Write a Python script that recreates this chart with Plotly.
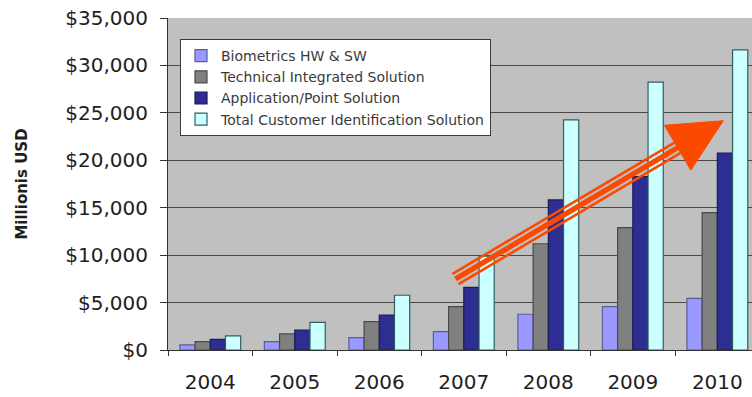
import plotly.graph_objects as go

# Market size by year, millions of USD
years = ["2004", "2005", "2006", "2007", "2008", "2009", "2010"]
biometrics = [550, 880, 1300, 1930, 3770, 4570, 5450]
technical = [880, 1690, 2990, 4570, 11200, 12900, 14490]
application = [1130, 2110, 3690, 6610, 15820, 18280, 20750]
total = [1480, 2920, 5770, 9900, 24260, 28250, 31650]

series_names = [
    "Biometrics HW & SW",
    "Technical Integrated Solution",
    "Application/Point Solution",
    "Total Customer Identification Solution",
]
series_values = [biometrics, technical, application, total]
fills = ["#9999ff", "#808080", "#2e2e92", "#ccffff"]
edges = ["#5c5c99", "#4a4a4a", "#1c1c55", "#2f6060"]

W, H = 752, 397
ML, MR, MT, MB = 168, 0, 18, 47

fig = go.Figure()
for name, vals, fc, ec in zip(series_names, series_values, fills, edges):
    fig.add_trace(go.Bar(
        x=years, y=vals, name=name,
        marker=dict(color=fc, line=dict(color=ec, width=1.2)),
    ))

# Trend arrow, placed in pixel terms and converted to paper fractions
pw, ph = W - ML - MR, H - MT - MB


def px(x):
    return (x - ML) / pw


def py(y):
    return (H - MB - y) / ph


orange = "#fb4a00"
start = (455.5, 279.0)
tip = (723.3, 120.7)
dx, dy = tip[0] - start[0], tip[1] - start[1]
length = (dx ** 2 + dy ** 2) ** 0.5
ux, uy = dx / length, dy / length
nx, ny = -uy, ux
shaft_len = 258.0
head_w = 26.0
base = (start[0] + ux * shaft_len, start[1] + uy * shaft_len)

shapes = []
for off, wd in [(-6.0, 2.6), (0.0, 5.4), (6.0, 2.6)]:
    x0, y0 = start[0] + nx * off, start[1] + ny * off
    x1, y1 = base[0] + nx * off, base[1] + ny * off
    shapes.append(dict(type="line", xref="paper", yref="paper",
                       x0=px(x0), y0=py(y0), x1=px(x1), y1=py(y1),
                       line=dict(color=orange, width=wd)))
c1 = (base[0] + nx * head_w, base[1] + ny * head_w)
c2 = (base[0] - nx * head_w, base[1] - ny * head_w)
path = "M {} {} L {} {} L {} {} Z".format(
    px(tip[0]), py(tip[1]), px(c1[0]), py(c1[1]), px(c2[0]), py(c2[1]))
shapes.append(dict(type="path", xref="paper", yref="paper", path=path,
                   fillcolor=orange, line=dict(color=orange, width=1)))

font_family = "DejaVu Sans"
fig.update_layout(
    width=W, height=H,
    margin=dict(l=ML, r=MR, t=MT, b=MB, pad=0),
    paper_bgcolor="white",
    plot_bgcolor="#c0c0c0",
    barmode="group",
    bargap=0.28,
    bargroupgap=0,
    font=dict(family=font_family, color="#1e1e1e"),
    showlegend=True,
    legend=dict(
        x=px(180), y=py(39), xanchor="left", yanchor="top",
        bgcolor="white", bordercolor="#3a3a3a", borderwidth=1,
        font=dict(family=font_family, size=14, color="#3a3a3a"),
        traceorder="normal",
    ),
    shapes=shapes,
)
fig.update_xaxes(
    range=[-0.5, 6.41],
    showgrid=False,
    showline=True, linecolor="#333333", linewidth=1,
    ticks="outside", tickson="boundaries", ticklen=5, tickcolor="#333333",
    tickfont=dict(size=20, color="#1e1e1e"),
    ticklabelstandoff=14,
)
fig.update_yaxes(
    range=[0, 35000], dtick=5000,
    tickprefix="$", tickformat=",",
    showgrid=True, gridcolor="#4a4a4a", gridwidth=1.4,
    zeroline=False,
    showline=True, linecolor="#333333", linewidth=1,
    ticks="outside", ticklen=7, tickcolor="#333333",
    tickfont=dict(size=20, color="#1e1e1e"),
    ticklabelstandoff=8,
    title=dict(text="<b>Millionis USD</b>",
               font=dict(family=font_family, size=15, color="#1e1e1e"),
               standoff=34),
)

fig.write_html("out.html")
